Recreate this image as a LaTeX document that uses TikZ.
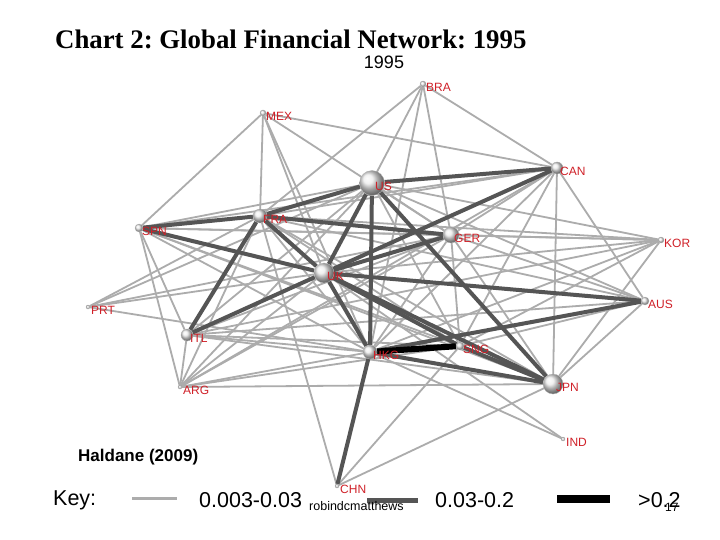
\documentclass[tikz,border=0pt]{standalone}
\usepackage{fontspec}
\setmainfont{Liberation Sans}
\newfontfamily\titlefont{Liberation Serif}
\usetikzlibrary{calc}
\definecolor{lg}{RGB}{172,172,172}
\definecolor{dg}{RGB}{85,85,85}
\definecolor{lblred}{RGB}{208,32,40}
\pgfdeclarelayer{back}
\pgfdeclarelayer{bg}
\pgfsetlayers{back,bg,main}
\frenchspacing
\tikzset{
  lite/.style={draw=lg, line width=1.8pt},
  darkedge/.style={draw=dg, line width=4pt},
  heavy/.style={draw=black, line width=6pt},
  sph/.style={circle, inner sep=0pt, shading=ball, ball color=gray!15, draw=gray!60, line width=0.3pt},
  lbl/.style={text=lblred, font=\fontsize{12}{12}\selectfont, anchor=west, inner sep=0pt},
  keytxt/.style={font=\fontsize{21.5}{22}\selectfont, anchor=west, inner sep=0pt},
}
\newcommand\country[4]{%
  \node[sph, minimum size=#4pt] (#1) at (#2,#3) {};
  \node[lbl] (#1-l) at (#2+3,#3+3) {#1};}
\begin{document}
\begin{tikzpicture}[x=1pt,y=-1pt]
\useasboundingbox (0,0) rectangle (720,540);
\begin{pgfonlayer}{back}
\fill[white] (0,0) rectangle (720,540);
\end{pgfonlayer}

\node[anchor=base west, inner sep=0pt, font=\titlefont\bfseries\fontsize{26.8}{28}\selectfont] (title) at (55,49) {Chart 2: Global Financial Network: 1995};
\node[anchor=base, inner sep=0pt, font=\fontsize{18}{20}\selectfont] (year) at (384,69) {1995};

\country{BRA}{423}{84}{6}
\country{MEX}{263}{113}{6}
\country{CAN}{557}{168}{12}
\country{US}{372}{183}{25}
\country{FRA}{260}{216}{14}
\country{GER}{451}{235}{16}
\country{SPN}{139}{228}{8}
\country{KOR}{661}{240}{6}
\country{UK}{324}{273}{20}
\country{AUS}{645}{301}{8}
\country{PRT}{88}{307}{4}
\country{ITL}{187}{335}{12}
\country{HKG}{370}{352}{14}
\country{SNG}{460}{346}{8}
\country{JPN}{553}{384}{20}
\country{ARG}{180}{387}{4}
\country{IND}{563}{439}{4}
\country{CHN}{337}{486}{4}

\begin{pgfonlayer}{bg}
\foreach \a/\b in {BRA/CAN, BRA/FRA, BRA/UK, BRA/HKG, BRA/GER,
  MEX/CAN, MEX/FRA, MEX/SPN, MEX/GER, MEX/UK, MEX/HKG,
  CAN/FRA, CAN/SPN, CAN/GER, CAN/HKG, CAN/SNG, CAN/JPN, CAN/AUS, CAN/ITL, CAN/ARG,
  US/GER, US/SPN, US/KOR, US/AUS, US/SNG, US/ITL, US/ARG, US/PRT,
  FRA/HKG, FRA/SNG, FRA/JPN, FRA/KOR, FRA/AUS, FRA/ARG, FRA/PRT, FRA/CHN,
  GER/SPN, GER/ITL, GER/HKG, GER/SNG, GER/JPN, GER/KOR, GER/AUS, GER/ARG, GER/PRT,
  SPN/ITL, SPN/ARG, SPN/HKG, SPN/SNG, SPN/JPN, SPN/KOR,
  UK/KOR, UK/PRT, UK/ARG, UK/IND,
  ITL/HKG, ITL/SNG, ITL/JPN, ITL/KOR, ITL/AUS, ITL/ARG,
  HKG/KOR, HKG/PRT, HKG/ARG, HKG/IND,
  SNG/KOR, SNG/AUS, SNG/ARG, SNG/CHN,
  JPN/KOR, JPN/AUS, JPN/CHN, JPN/ARG}
  \draw[lite] (\a) -- (\b);
\foreach \a/\b in {US/CAN, US/FRA, US/UK, US/HKG, US/JPN,
  CAN/UK, FRA/SPN, FRA/GER, FRA/UK, FRA/ITL,
  GER/UK, SPN/UK, ITL/UK, UK/HKG, UK/SNG, UK/JPN, UK/AUS,
  HKG/AUS, HKG/JPN, SNG/JPN, HKG/CHN}
  \draw[darkedge] (\a) -- (\b);
\draw[heavy] (HKG) -- (SNG);
\end{pgfonlayer}

\node[anchor=west, inner sep=0pt, font=\bfseries\fontsize{17}{18}\selectfont] (hald) at (78,457) {Haldane (2009)};

\node[keytxt] (key) at (53,500) {Key:};
\coordinate (k1a) at (132,498); \coordinate (k1b) at (177,498);
\draw[lite, line width=3pt] (k1a) -- (k1b);
\node[keytxt] (t1) at (199,500) {0.003-0.03};
\coordinate (k2a) at (367,500); \coordinate (k2b) at (418,500);
\draw[draw=dg, line width=5pt] (k2a) -- (k2b);
\node[anchor=west, inner sep=0pt, font=\fontsize{12.5}{13}\selectfont] (auth) at (309,506) {robindcmatthews};
\node[keytxt] (t2) at (435,500) {0.03-0.2};
\coordinate (k3a) at (557,499); \coordinate (k3b) at (610,499);
\draw[draw=black, line width=8pt] (k3a) -- (k3b);
\node[keytxt] (t3) at (638,500) {>0.2};
\node[anchor=west, inner sep=0pt, font=\fontsize{12}{13}\selectfont] (page) at (665,507) {17};
\end{tikzpicture}
\end{document}
